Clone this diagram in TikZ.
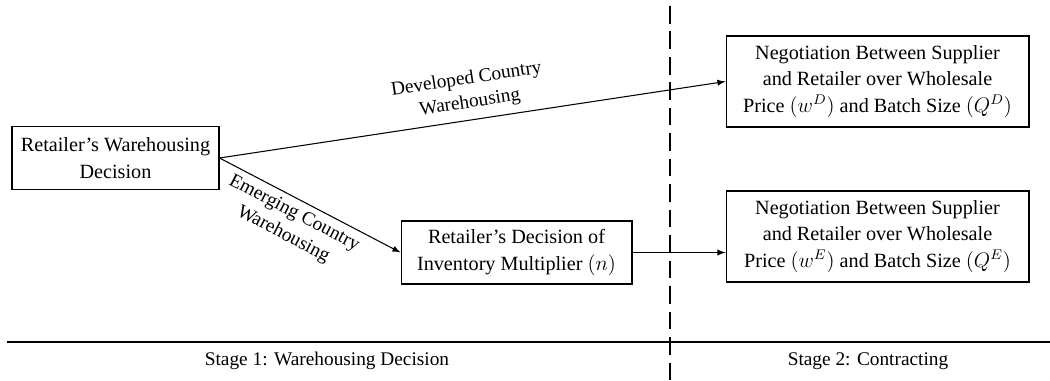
\documentclass[tikz,border=0pt]{standalone}
\usepackage{fontspec}
\setmainfont{Liberation Serif}
\usetikzlibrary{arrows, arrows.meta, positioning}
\tikzset{>=latex}

\begin{document}
\begin{tikzpicture}[x=0.02cm, y=-0.02cm,
    box/.style={draw, line width=0.6pt, align=center, inner sep=0pt,
        font=\fontsize{11.5}{15}\selectfont},
    lbl/.style={align=center, font=\fontsize{11}{13.5}\selectfont}]
    \useasboundingbox (0,0) rectangle (1050,381);
    % decisions and contracts
    \node[box, minimum width=4.14cm, minimum height=1.26cm] (ret) at (115.5,158) {Retailer’s Warehousing\\Decision};
    \node[box, minimum width=4.62cm, minimum height=1.26cm] (mult) at (516.5,252.5) {Retailer’s Decision of\\Inventory Multiplier $(n)$};
    \node[box, minimum width=6.06cm, minimum height=1.82cm] (negD) at (877.5,81.5) {Negotiation Between Supplier\\and Retailer over Wholesale\\Price $(w^D)$ and Batch Size $(Q^D)$};
    \node[box, minimum width=6.06cm, minimum height=1.82cm] (negE) at (877.5,236.5) {Negotiation Between Supplier\\and Retailer over Wholesale\\Price $(w^E)$ and Batch Size $(Q^E)$};
    \draw[->, line width=0.6pt] (ret.east) -- node[lbl, sloped, above=1pt] {Developed Country\\Warehousing} (negD.west);
    \draw[->, line width=0.6pt] (ret.east) -- node[lbl, sloped, below=0pt, pos=0.45] {Emerging Country\\Warehousing} (mult.west);
    \draw[->, line width=0.6pt] (mult.east) -- (mult.east -| negE.west);
    % stages
    \draw[line width=1pt] (7,342) -- (1050,342);
    \draw[line width=1.4pt, dash pattern=on 10pt off 4.5pt] (670,6) -- (670,381);
    \node[lbl] (st1) at (327,361) {Stage 1: Warehousing Decision};
    \node[lbl] (st2) at (868,361) {Stage 2: Contracting};
\end{tikzpicture}
\end{document}
